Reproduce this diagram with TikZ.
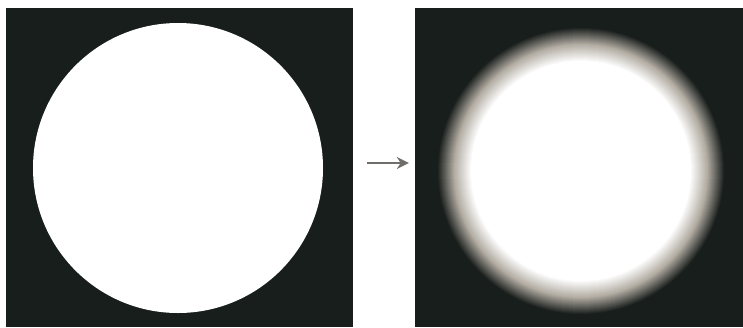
\documentclass[tikz,border=0pt]{standalone}
\usepackage{xcolor}
\usetikzlibrary{arrows.meta,positioning}
\definecolor{photobg}{RGB}{24,30,28}
\definecolor{halotint}{RGB}{178,172,162}
\definecolor{arrowgray}{RGB}{112,110,106}

\begin{document}
\begin{tikzpicture}[x=1pt,y=-1pt,
    photo/.style={rectangle,fill=photobg,inner sep=0pt,minimum height=319pt},
    mapsto/.style={arrowgray,line width=2pt,-{Stealth[length=12pt,width=12pt]}}]
  \useasboundingbox (0,0) rectangle (743,327);
  \fill[white] (0,0) rectangle (743,327);
  % sharp disc, then blurred disc
  \node[photo,minimum width=347pt] (before) at (179.5,167.5) {};
  \node[photo,minimum width=328pt] (after) at (579,167.5) {};
  \fill[white] (178,168) circle (145);
  \foreach \i in {0,...,34}{
    \pgfmathsetmacro\rad{144-\i}
    \pgfmathsetmacro\tt{\i/34}
    \pgfmathsetmacro\tint{min(100,200*\tt)}
    \pgfmathsetmacro\pct{max(0,200*\tt-100)}
    \colorlet{ringmix}{halotint!\tint!photobg}
    \fill[white!\pct!ringmix] (581,171) circle (\rad);
  }
  \draw[mapsto] ([xshift=14pt,yshift=4.5pt]before.east) -- ([xshift=-6pt,yshift=4.5pt]after.west);
\end{tikzpicture}
\end{document}
